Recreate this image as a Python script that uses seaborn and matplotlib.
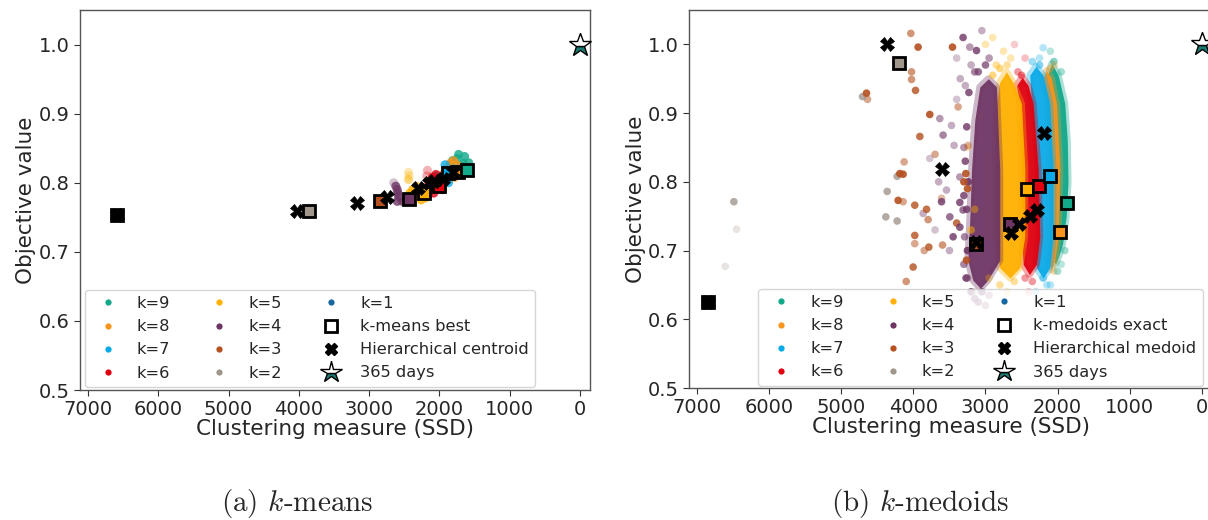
import numpy as np
import pandas as pd
import matplotlib
matplotlib.use("Agg")
import matplotlib.pyplot as plt
import seaborn as sns
from matplotlib.lines import Line2D

# ---------------- data ----------------
K_ORDER = [9, 8, 7, 6, 5, 4, 3, 2, 1]
K_COLORS = ["#12a88a", "#f7941d", "#0aaae8", "#e0000f", "#ffb000",
            "#6e3564", "#b5501f", "#a0968c", "#1668a0"]
STAR_COLOR = "#1a7a72"

# (a) k-means : sampled solutions (k, SSD, objective, alpha)
KM_PTS_K = [9]*11 + [8]*10 + [7]*11 + [6]*11 + [5]*12 + [4]*7 + [3]
KM_PTS_X = [1812, 1726, 1641, 1583, 1612, 1698, 1769, 1840, 1669, 1750, 1660,
            1950, 1900, 1850, 1800, 1750, 1720, 1780, 1860, 1930, 1820,
            2060, 2000, 1950, 1900, 1850, 1800, 1780, 1870, 1980, 2040, 1920,
            2200, 2150, 2100, 2050, 2000, 1960, 2080, 2160, 2120, 2180, 2170,
            2420, 2380, 2330, 2280, 2230, 2200, 2260, 2350, 2300, 2440, 2440, 2430,
            2650, 2620, 2600, 2590, 2580, 2600, 2525,
            2830]
KM_PTS_Y = [0.832, 0.841, 0.838, 0.829, 0.821, 0.825, 0.818, 0.824, 0.815, 0.835, 0.828,
            0.812, 0.820, 0.828, 0.832, 0.826, 0.815, 0.808, 0.806, 0.803, 0.818,
            0.800, 0.806, 0.800, 0.812, 0.815, 0.820, 0.810, 0.800, 0.795, 0.810, 0.826,
            0.790, 0.800, 0.808, 0.812, 0.800, 0.790, 0.785, 0.782, 0.795, 0.810, 0.818,
            0.785, 0.790, 0.795, 0.790, 0.785, 0.778, 0.775, 0.780, 0.783, 0.805, 0.815, 0.810,
            0.800, 0.795, 0.790, 0.785, 0.780, 0.773, 0.773,
            0.773]
KM_PTS_A = [0.8]*11 + [0.8]*10 + [0.8]*11 + [0.8]*9 + [0.3, 0.3] + \
           [0.8]*9 + [0.5, 0.3, 0.3] + [0.3, 0.8, 0.8, 0.8, 0.8, 0.8, 0.8] + [0.9]

KM_BEST_K = [1, 2, 3, 4, 5, 6, 7, 8, 9]
KM_BEST_X = [6590, 3852, 2839, 2439, 2225, 2011, 1883, 1740, 1612]
KM_BEST_Y = [0.753, 0.759, 0.773, 0.776, 0.785, 0.795, 0.814, 0.815, 0.818]
KM_HIER_X = [6590, 4023, 3167, 2739, 2311, 2154, 2083, 1954, 1812]
KM_HIER_Y = [0.753, 0.759, 0.770, 0.779, 0.793, 0.799, 0.802, 0.806, 0.815]

# (b) k-medoids : dense solution bands (k, objective levels, SSD left/right edges)
KMD_BAND_K = [9, 8, 7, 6, 5, 4]
KMD_BAND_Y = [[0.972, 0.955, 0.914, 0.860, 0.800, 0.750, 0.710, 0.690, 0.680],
              [0.962, 0.950, 0.914, 0.820, 0.720, 0.685, 0.672],
              [0.968, 0.955, 0.914, 0.820, 0.720, 0.675, 0.660],
              [0.952, 0.940, 0.914, 0.820, 0.720, 0.680, 0.665],
              [0.960, 0.945, 0.914, 0.820, 0.720, 0.675, 0.660],
              [0.950, 0.938, 0.890, 0.817, 0.744, 0.686, 0.657, 0.645]]
KMD_BAND_L = [[2080, 2140, 2108, 2080, 2062, 2062, 2062, 2062, 2030],
              [2150, 2201, 2154, 2108, 2108, 2131, 2090],
              [2300, 2386, 2362, 2316, 2293, 2293, 2200],
              [2490, 2570, 2524, 2501, 2501, 2478, 2390],
              [2710, 2802, 2847, 2870, 2870, 2802, 2660],
              [2960, 3079, 3148, 3194, 3218, 3245, 3176, 3070]]
KMD_BAND_R = [[2080, 1990, 1900, 1865, 1854, 1880, 1930, 1990, 2030],
              [2150, 2085, 2015, 1970, 1993, 2040, 2090],
              [2300, 2201, 2108, 2062, 2062, 2108, 2200],
              [2490, 2409, 2340, 2270, 2247, 2293, 2390],
              [2710, 2621, 2501, 2455, 2455, 2524, 2660],
              [2960, 2847, 2830, 2802, 2802, 2802, 2968, 3070]]

# (b) k-medoids : scattered solutions (k, SSD, objective, alpha)
KMD_PTS_K = [2]*9 + [3]*34 + [4]*30 + [5]*7 + [6]*3 + [7]*4 + [9]*2 + [8]
KMD_PTS_X = [6491, 6454, 6611, 4706, 4364, 4383, 4226, 4226, 3150,
             4651, 4637, 4036, 3935, 4026, 4026, 3971, 3773, 3380, 3458, 3911, 4129,
             4189, 4143, 4212, 4143, 3981, 3818, 3796, 3981, 3981, 3786, 3596, 4004,
             3264, 3241, 3273, 3610, 3300, 3400, 3250, 3700, 3850, 4100,
             3634, 3472, 3436, 3588, 3773, 3865, 3610, 3495, 3449, 3541, 3356, 3356,
             3311, 3356, 3311, 3218, 3125, 3050, 3200, 3100, 3280, 3400, 3500, 3300,
             3250, 3150, 3050, 2950, 3700, 3650,
             3000, 2900, 2750, 2850, 2650, 2950, 2700,
             2600, 2450, 2400,
             2250, 2200, 2150, 2300,
             2100, 1950,
             2050]
KMD_PTS_Y = [0.771, 0.731, 0.677, 0.924, 0.786, 0.749, 0.743, 0.808, 0.640,
             0.929, 0.920, 1.016, 0.996, 0.960, 0.949, 0.933, 0.898, 0.909, 0.996, 0.866, 0.829,
             0.812, 0.811, 0.773, 0.771, 0.766, 0.760, 0.745, 0.722, 0.710, 0.705, 0.708, 0.676,
             0.686, 0.853, 0.812, 0.776, 0.800, 0.740, 0.790, 0.840, 0.700, 0.655,
             0.892, 0.882, 0.853, 0.868, 0.834, 0.754, 0.771, 0.749, 0.720, 0.788, 0.807, 0.770,
             0.759, 0.734, 1.010, 0.996, 0.991, 1.020, 0.970, 0.960, 0.940, 0.920, 0.700, 0.680,
             0.660, 0.630, 0.640, 0.635, 0.730, 0.800,
             1.000, 1.010, 0.990, 0.970, 0.980, 0.660, 0.640,
             1.000, 0.980, 0.640,
             0.980, 0.995, 0.650, 0.640,
             0.990, 0.680,
             0.970]
KMD_PTS_A = [0.8, 0.25, 0.25, 0.8, 0.8, 0.8, 0.8, 0.8, 0.3,
             0.9, 0.5, 0.6, 0.9, 0.6, 0.6, 0.8, 0.9, 0.5, 0.9, 0.8, 0.5,
             0.9, 0.9, 0.9, 0.5, 0.8, 0.8, 0.6, 0.8, 0.5, 0.8, 0.6, 0.8,
             0.9, 0.4, 0.9, 0.4, 0.9, 0.8, 0.9, 0.5, 0.5, 0.6,
             0.5, 0.4, 0.4, 0.6, 0.3, 0.4, 0.8, 0.7, 0.8, 0.4, 0.5, 0.8,
             0.7, 0.8, 0.8, 0.5, 0.8, 0.4, 0.4, 0.7, 0.4, 0.3, 0.4, 0.6,
             0.5, 0.7, 0.8, 0.5, 0.3, 0.4,
             0.3, 0.3, 0.3, 0.4, 0.3, 0.3, 0.3,
             0.2, 0.25, 0.25,
             0.3, 0.3, 0.3, 0.3,
             0.3, 0.3,
             0.3]

# (b) k-medoids : solutions on the fringes of the dense bands
KMD_EDGE_K = [4]*18 + [5]*8 + [6]*4 + [7]*4 + [9]*4 + [8]*2
KMD_EDGE_X = [3230, 3260, 3300, 3280, 3240, 3300, 3260, 3290, 3250, 3270, 3200, 3100,
              3000, 3150, 3000, 2950, 3350, 3400,
              3200, 3150, 3250, 2900, 2800, 2700, 2600, 2800,
              2500, 2550, 2350, 2450,
              2350, 2250, 2200, 2100,
              2050, 1950, 1900, 2000,
              2100, 2050]
KMD_EDGE_Y = [0.930, 0.880, 0.850, 0.830, 0.800, 0.780, 0.760, 0.720, 0.700, 0.660, 0.640, 0.625,
              0.620, 0.960, 0.970, 0.980, 0.950, 0.980,
              0.730, 0.760, 0.850, 0.955, 0.965, 0.970, 0.655, 0.650,
              0.955, 0.960, 0.655, 0.660,
              0.975, 0.970, 0.660, 0.650,
              0.975, 0.960, 0.700, 0.670,
              0.965, 0.670]
KMD_EDGE_A = [0.8, 0.8, 0.5, 0.8, 0.9, 0.8, 0.8, 0.6, 0.9, 0.8, 0.8, 0.7,
              0.5, 0.6, 0.7, 0.5, 0.4, 0.3,
              0.5, 0.4, 0.3, 0.5, 0.5, 0.4, 0.4, 0.4,
              0.5, 0.4, 0.4, 0.4,
              0.4, 0.5, 0.4, 0.3,
              0.5, 0.4, 0.4, 0.4,
              0.4, 0.3]

KMD_BEST_K = [1, 2, 3, 4, 5, 6, 7, 8, 9]
KMD_BEST_X = [6852, 4198, 3125, 2653, 2423, 2257, 2099, 1960, 1868]
KMD_BEST_Y = [0.625, 0.973, 0.710, 0.739, 0.790, 0.794, 0.808, 0.727, 0.769]
KMD_HIER_X = [6852, 4373, 3600, 3135, 2650, 2534, 2386, 2282, 2187]
KMD_HIER_Y = [0.625, 1.000, 0.819, 0.712, 0.725, 0.739, 0.750, 0.759, 0.871]

STAR_X = [0]
STAR_Y = [1.0]

X_TICKS = [7000, 6000, 5000, 4000, 3000, 2000, 1000, 0]
Y_TICKS = [0.5, 0.6, 0.7, 0.8, 0.9, 1.0]
CAPTIONS = [r"(a) $k$-means", r"(b) $k$-medoids"]
LEGEND_BEST = ["k-means best", "k-medoids exact"]
LEGEND_HIER = ["Hierarchical centroid", "Hierarchical medoid"]

# ---------------- style ----------------
sns.set_style("ticks")
plt.rcParams["font.family"] = ["DejaVu Sans"]
plt.rcParams["mathtext.fontset"] = "cm"

palette = dict(zip(K_ORDER, K_COLORS))

fig = plt.figure(figsize=(12.08, 5.2), dpi=100)
axL = fig.add_axes([80 / 1208, 130 / 520, 510 / 1208, 380 / 520])
axR = fig.add_axes([689 / 1208, 132 / 520, 523 / 1208, 378 / 520])


def draw_points(ax, ks, xs, ys, alphas, size):
    df = pd.DataFrame({"k": ks, "x": xs, "y": ys, "a": alphas})
    for a in sorted(df["a"].unique()):
        sub = df[df["a"] == a]
        sns.scatterplot(data=sub, x="x", y="y", hue="k", palette=palette,
                        s=size, alpha=a, linewidth=0, legend=False, ax=ax,
                        zorder=2)


def draw_markers(ax, bk, bx, by, hx, hy):
    for k, x, y in zip(bk, bx, by):
        fc = "black" if k == 1 else palette[k]
        ax.plot([x], [y], ls="", marker="s", ms=8.5, mfc=fc, mec="black",
                mew=2, zorder=4)
    ax.plot(hx, hy, ls="", marker="X", ms=10, color="black", mec="black",
            mew=0.5, zorder=5)
    ax.plot(STAR_X, STAR_Y, ls="", marker="*", ms=17, mfc=STAR_COLOR,
            fillstyle="bottom", markerfacecoloralt="white", mec="black",
            mew=1.0, zorder=6, clip_on=False)


# (a)
draw_points(axL, KM_PTS_K, KM_PTS_X, KM_PTS_Y, KM_PTS_A, 42)
draw_markers(axL, KM_BEST_K, KM_BEST_X, KM_BEST_Y, KM_HIER_X, KM_HIER_Y)

# (b)
for k, yy, ll, rr in zip(KMD_BAND_K, KMD_BAND_Y, KMD_BAND_L, KMD_BAND_R):
    axR.fill_betweenx(yy, ll, rr, facecolor="none", edgecolor=palette[k],
                      alpha=0.35, lw=5, zorder=1)
    axR.fill_betweenx(yy, ll, rr, color=palette[k], alpha=0.95, lw=0,
                      zorder=1)
draw_points(axR, KMD_EDGE_K, KMD_EDGE_X, KMD_EDGE_Y, KMD_EDGE_A, 30)
draw_points(axR, KMD_PTS_K, KMD_PTS_X, KMD_PTS_Y, KMD_PTS_A, 30)
draw_markers(axR, KMD_BEST_K, KMD_BEST_X, KMD_BEST_Y, KMD_HIER_X, KMD_HIER_Y)

for i, ax in enumerate([axL, axR]):
    ax.set_xlim(7114, -143)
    ax.set_ylim(0.5, 1.05)
    ax.set_xticks(X_TICKS)
    ax.set_yticks(Y_TICKS)
    ax.set_xticklabels([str(t) for t in X_TICKS])
    ax.set_yticklabels([f"{t:.1f}" for t in Y_TICKS])
    ax.tick_params(labelsize=14, length=4, width=0.8, color="#333333")
    ax.set_xlabel("Clustering measure (SSD)", fontsize=15.5, labelpad=0)
    ax.set_ylabel("Objective value", fontsize=15.5, labelpad=1.5)
    for sp in ax.spines.values():
        sp.set_color("#555555")
        sp.set_linewidth(1.0)

    handles = [Line2D([], [], ls="", marker="o", ms=4.5, color=palette[k],
                      mec="none") for k in K_ORDER]
    handles += [
        Line2D([], [], ls="", marker="s", ms=8, mfc="white", mec="black", mew=2),
        Line2D([], [], ls="", marker="X", ms=9, color="black"),
        Line2D([], [], ls="", marker="*", ms=16, mfc=STAR_COLOR,
               fillstyle="bottom", markerfacecoloralt="white", mec="black",
               mew=1.0),
    ]
    labels = [f"k={k}" for k in K_ORDER] + [LEGEND_BEST[i], LEGEND_HIER[i], "365 days"]
    if i == 0:
        leg = ax.legend(handles, labels, ncol=3, fontsize=11.7, loc="lower left",
                        bbox_to_anchor=(5 / 510, 3 / 380), borderaxespad=0,
                        labelspacing=0.5, columnspacing=2.0)
    else:
        leg = ax.legend(handles, labels, ncol=3, fontsize=11.7, loc="lower right",
                        bbox_to_anchor=((1203 - 689) / 523, 2 / 378),
                        borderaxespad=0, labelspacing=0.5, columnspacing=2.0)

fig.text(297 / 1208, 1 - 503 / 520, CAPTIONS[0], family="cmr10", fontsize=21,
         ha="center", va="center")
fig.text(920 / 1208, 1 - 503 / 520, CAPTIONS[1], family="cmr10", fontsize=21,
         ha="center", va="center")

fig.savefig("out.png", dpi=100)
